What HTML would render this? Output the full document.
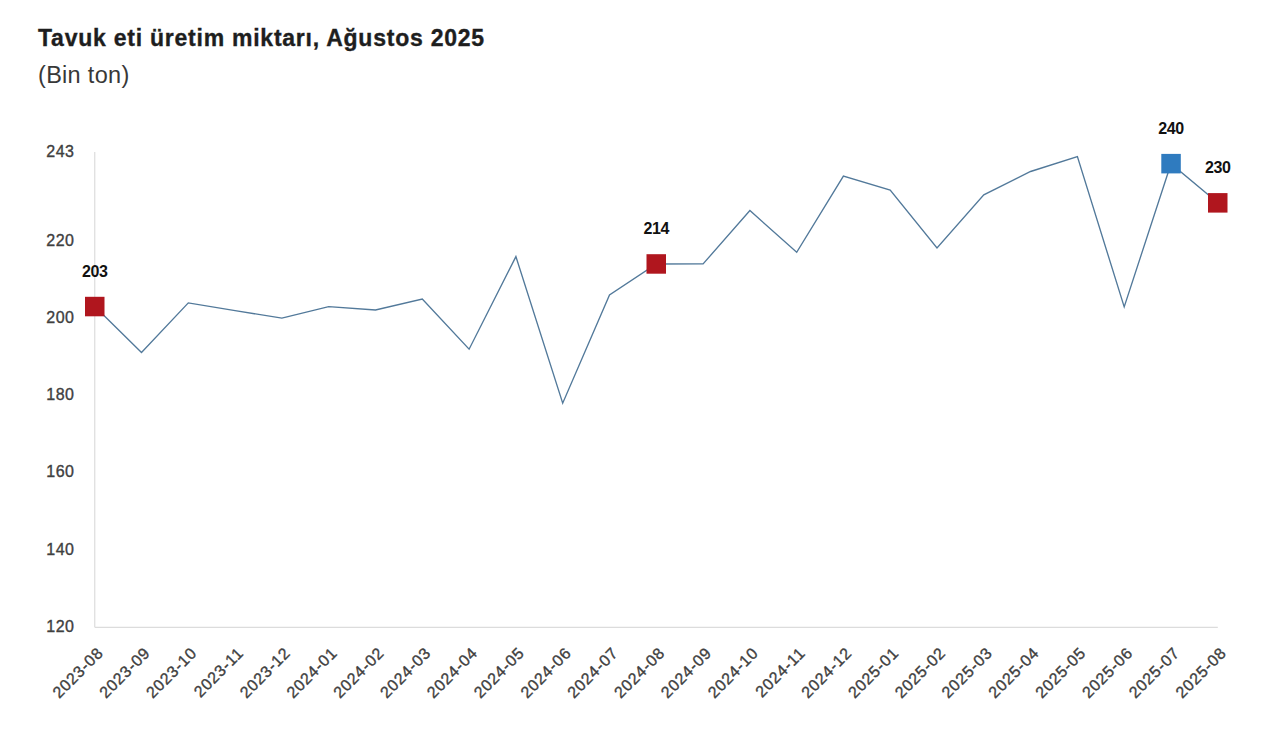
<!DOCTYPE html>
<html><head><meta charset="utf-8">
<style>
html,body{margin:0;padding:0;background:#fff;}
body{width:1280px;height:739px;overflow:hidden;position:relative;font-family:"Liberation Sans",sans-serif;}
.t{position:absolute;left:38px;top:25px;font-size:23px;letter-spacing:0.76px;font-weight:bold;color:#1e1e1e;-webkit-text-stroke:0.35px #1e1e1e;white-space:nowrap;}
.s{position:absolute;left:38px;top:62px;font-size:23.5px;letter-spacing:0.3px;color:#383838;white-space:nowrap;}
svg{position:absolute;left:0;top:0;}
.yl{font-size:16px;letter-spacing:0.5px;fill:#404040;stroke:#404040;stroke-width:0.35px;}
.xl{font-size:16px;letter-spacing:0.7px;fill:#404040;stroke:#404040;stroke-width:0.35px;}
.dl{font-size:16px;letter-spacing:-0.4px;font-weight:bold;fill:#111;}
</style></head><body>
<div class="t">Tavuk eti üretim miktarı, Ağustos 2025</div>
<div class="s">(Bin ton)</div>
<svg width="1280" height="739" viewBox="0 0 1280 739" font-family="Liberation Sans, sans-serif">
<line x1="94.75" y1="152" x2="94.75" y2="627.3" stroke="#dcdcdc" stroke-width="1.2"/>
<line x1="94.75" y1="627.3" x2="1217.8" y2="627.3" stroke="#dcdcdc" stroke-width="1.2"/>
<text x="74.5" y="156.9" text-anchor="end" class="yl">243</text>
<text x="74.5" y="245.7" text-anchor="end" class="yl">220</text>
<text x="74.5" y="322.9" text-anchor="end" class="yl">200</text>
<text x="74.5" y="400.1" text-anchor="end" class="yl">180</text>
<text x="74.5" y="477.3" text-anchor="end" class="yl">160</text>
<text x="74.5" y="554.5" text-anchor="end" class="yl">140</text>
<text x="74.5" y="631.7" text-anchor="end" class="yl">120</text>
<polyline points="94.8,306.5 141.5,352.5 188.3,302.9 235.1,310.6 281.9,318.1 328.7,306.7 375.5,310.0 422.3,299.0 469.1,349.2 515.9,256.6 562.7,403.2 609.5,295.0 656.3,264.0 703.1,263.9 749.9,210.5 796.7,252.3 843.4,176.1 890.2,190.2 937.0,248.0 983.8,194.9 1030.6,171.5 1077.4,156.6 1124.2,306.9 1171.0,163.7 1217.8,202.8" fill="none" stroke="#52799a" stroke-width="1.35" stroke-linejoin="miter"/>
<rect x="85.0" y="296.8" width="19.5" height="19.5" fill="#b0161e"/>
<text x="94.8" y="276.6" text-anchor="middle" class="dl">203</text>
<rect x="646.5" y="254.2" width="19.5" height="19.5" fill="#b0161e"/>
<text x="656.3" y="234.1" text-anchor="middle" class="dl">214</text>
<rect x="1161.3" y="153.9" width="19.5" height="19.5" fill="#2f7bbf"/>
<text x="1171.0" y="133.8" text-anchor="middle" class="dl">240</text>
<rect x="1208.0" y="193.1" width="19.5" height="19.5" fill="#b0161e"/>
<text x="1217.8" y="172.9" text-anchor="middle" class="dl">230</text>
<text transform="translate(104.2,654) rotate(-45)" text-anchor="end" class="xl">2023-08</text>
<text transform="translate(151.0,654) rotate(-45)" text-anchor="end" class="xl">2023-09</text>
<text transform="translate(197.8,654) rotate(-45)" text-anchor="end" class="xl">2023-10</text>
<text transform="translate(244.6,654) rotate(-45)" text-anchor="end" class="xl">2023-11</text>
<text transform="translate(291.4,654) rotate(-45)" text-anchor="end" class="xl">2023-12</text>
<text transform="translate(338.2,654) rotate(-45)" text-anchor="end" class="xl">2024-01</text>
<text transform="translate(385.0,654) rotate(-45)" text-anchor="end" class="xl">2024-02</text>
<text transform="translate(431.8,654) rotate(-45)" text-anchor="end" class="xl">2024-03</text>
<text transform="translate(478.6,654) rotate(-45)" text-anchor="end" class="xl">2024-04</text>
<text transform="translate(525.4,654) rotate(-45)" text-anchor="end" class="xl">2024-05</text>
<text transform="translate(572.2,654) rotate(-45)" text-anchor="end" class="xl">2024-06</text>
<text transform="translate(619.0,654) rotate(-45)" text-anchor="end" class="xl">2024-07</text>
<text transform="translate(665.8,654) rotate(-45)" text-anchor="end" class="xl">2024-08</text>
<text transform="translate(712.6,654) rotate(-45)" text-anchor="end" class="xl">2024-09</text>
<text transform="translate(759.4,654) rotate(-45)" text-anchor="end" class="xl">2024-10</text>
<text transform="translate(806.2,654) rotate(-45)" text-anchor="end" class="xl">2024-11</text>
<text transform="translate(852.9,654) rotate(-45)" text-anchor="end" class="xl">2024-12</text>
<text transform="translate(899.7,654) rotate(-45)" text-anchor="end" class="xl">2025-01</text>
<text transform="translate(946.5,654) rotate(-45)" text-anchor="end" class="xl">2025-02</text>
<text transform="translate(993.3,654) rotate(-45)" text-anchor="end" class="xl">2025-03</text>
<text transform="translate(1040.1,654) rotate(-45)" text-anchor="end" class="xl">2025-04</text>
<text transform="translate(1086.9,654) rotate(-45)" text-anchor="end" class="xl">2025-05</text>
<text transform="translate(1133.7,654) rotate(-45)" text-anchor="end" class="xl">2025-06</text>
<text transform="translate(1180.5,654) rotate(-45)" text-anchor="end" class="xl">2025-07</text>
<text transform="translate(1227.3,654) rotate(-45)" text-anchor="end" class="xl">2025-08</text>
</svg>
</body></html>
